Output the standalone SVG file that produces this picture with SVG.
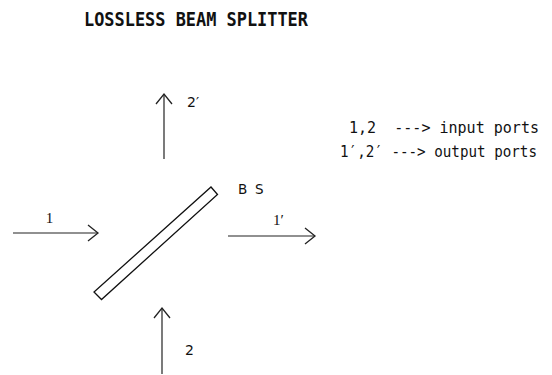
<svg xmlns="http://www.w3.org/2000/svg" width="552" height="375" viewBox="0 0 552 375">
<style>
.mono{font-family:"DejaVu Sans Mono","Liberation Mono",monospace;fill:#111}
.serif{font-family:"Liberation Serif","Times New Roman",serif;fill:#111}
.sans{font-family:"DejaVu Sans","Liberation Sans",sans-serif;fill:#111}
.ln{stroke:#222;stroke-width:1.2;fill:none;marker-end:url(#head)}
</style>
<defs>
<marker id="head" markerUnits="userSpaceOnUse" markerWidth="14" markerHeight="20" refX="12" refY="10" orient="auto">
<path d="M2,2 L12,10 L2,18" fill="none" stroke="#222" stroke-width="1.3"/>
</marker>
</defs>
<rect width="552" height="375" fill="#fff"/>
<text id="title" class="mono" x="84" y="26" font-size="19" font-weight="bold" textLength="224" lengthAdjust="spacingAndGlyphs">LOSSLESS BEAM SPLITTER</text>
<g id="beamsplitter">
<polygon points="211,187 217.5,194.5 101.5,299.5 94,292" fill="none" stroke="#111" stroke-width="1.3"/>
<text class="sans" font-size="13.5"><tspan x="238" y="194">B</tspan><tspan x="255" y="194">S</tspan></text>
</g>
<g id="legend">
<text class="mono" x="349" y="133" font-size="15" textLength="190" lengthAdjust="spacingAndGlyphs" xml:space="preserve">1,2  ---&gt; input ports</text>
<text class="mono" x="340" y="157" font-size="15" textLength="197" lengthAdjust="spacingAndGlyphs">1′,2′ ---&gt; output ports</text>
</g>
<g id="connectors">
<line id="port1" class="ln" x1="13" y1="233" x2="98" y2="233"/>
<line id="port1p" class="ln" x1="228" y1="236" x2="315" y2="236"/>
<line id="port2p" class="ln" x1="164" y1="159" x2="164" y2="94"/>
<line id="port2" class="ln" x1="162" y1="374" x2="162" y2="308"/>
</g>
<g id="labels">
<text class="serif" x="49.5" y="223" font-size="15" text-anchor="middle">1</text>
<text class="serif" x="273" y="225" font-size="15">1′</text>
<text class="sans" x="187" y="107" font-size="14">2′</text>
<text class="sans" x="185" y="355" font-size="14">2</text>
</g>
</svg>
